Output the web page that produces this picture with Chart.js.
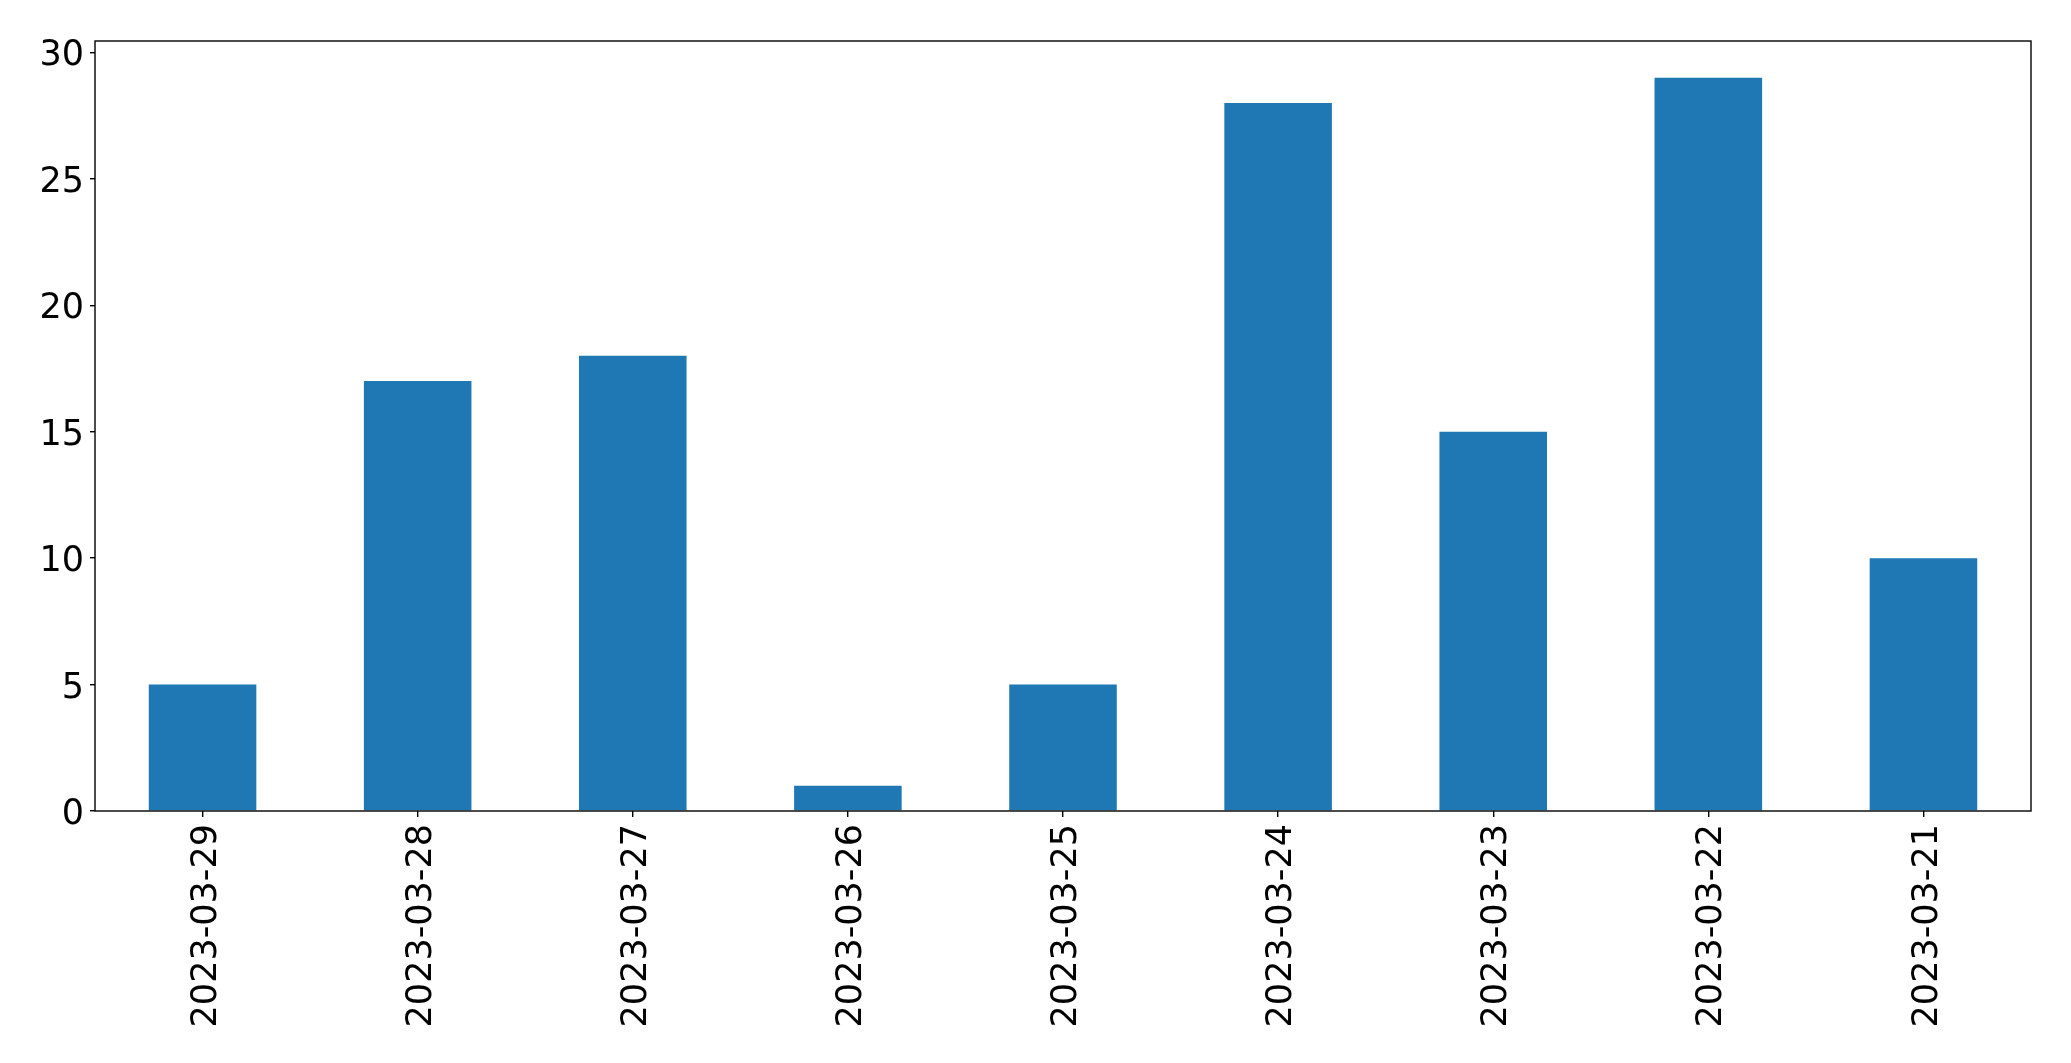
<!DOCTYPE html>
<html lang="en">
<head>
    <meta charset="UTF-8">
    <title>Daily counts</title>
    <script src="https://cdn.jsdelivr.net/npm/chart.js"></script>
    <style>
        html, body { margin: 0; padding: 0; background: #fff; }
        #wrap { width: 2071px; height: 1063px; }
    </style>
</head>
<body>
    <div id="wrap"><canvas id="barChart" width="2071" height="1063"></canvas></div>

    <script>
        // Data
        const dates = ['2023-03-29', '2023-03-28', '2023-03-27', '2023-03-26', '2023-03-25',
                       '2023-03-24', '2023-03-23', '2023-03-22', '2023-03-21'];
        const counts = [5, 17, 18, 1, 5, 28, 15, 29, 10];
        const yTicks = [0, 5, 10, 15, 20, 25, 30];

        // box round the plot area, like matplotlib's spines
        const frame = {
            id: 'frame',
            afterDraw(chart) {
                const { ctx, chartArea: a } = chart;
                ctx.save();
                ctx.strokeStyle = '#000';
                ctx.lineWidth = 1.4;
                ctx.strokeRect(a.left, a.top, a.right - a.left, a.bottom - a.top);
                ctx.restore();
            }
        };

        const font = { family: 'DejaVu Sans', size: 35 };

        new Chart(document.getElementById('barChart').getContext('2d'), {
            type: 'bar',
            data: {
                labels: dates,
                datasets: [{
                    data: counts,
                    backgroundColor: '#1f77b4',
                    borderWidth: 0,
                    barPercentage: 0.5,
                    categoryPercentage: 1.0
                }]
            },
            options: {
                responsive: false,
                animation: false,
                plugins: { legend: { display: false }, tooltip: { enabled: false } },
                layout: { padding: { left: 0, right: 40, top: 41, bottom: 0 } },
                scales: {
                    x: {
                        offset: true,
                        grid: { display: true, offset: false, drawOnChartArea: false, drawTicks: true,
                                tickLength: 6, color: '#000', lineWidth: 1.4 },
                        border: { display: false },
                        ticks: { color: '#000', font: font, minRotation: 90, maxRotation: 90,
                                 padding: 7, autoSkip: false, labelOffset: 4 },
                        afterFit(scale) { scale.height = 252; }
                    },
                    y: {
                        min: 0,
                        max: 30.45,
                        grid: { display: true, drawOnChartArea: false, drawTicks: true,
                                tickLength: 5, color: '#000', lineWidth: 1.4 },
                        border: { display: false },
                        ticks: { color: '#000', font: font, stepSize: 5, includeBounds: false,
                                 padding: 6, labelOffset: 4 },
                        afterBuildTicks(scale) { scale.ticks = yTicks.map(v => ({ value: v })); },
                        afterFit(scale) { scale.width = 95; }
                    }
                }
            },
            plugins: [frame]
        });
    </script>
</body>
</html>
